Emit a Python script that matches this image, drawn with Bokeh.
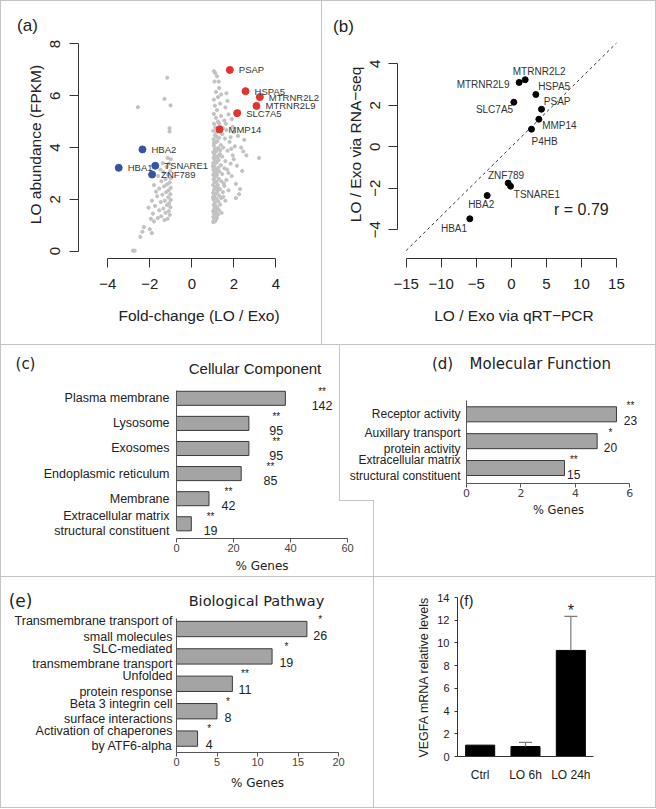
from bokeh.plotting import figure
from bokeh.models import (ColumnDataSource, Range1d, FactorRange, FixedTicker,
                          Label, LabelSet, GridBox, Spacer)
from bokeh.core.properties import value, field
from bokeh.embed import file_html
from bokeh.resources import INLINE

# ------------------------------------------------------------------ data
# (a) volcano-like plot: fold-change vs abundance
grey_fc = [
    1.02, 1.05, 1.10, 1.08, 1.15, 1.03, 1.20, 1.12, 1.05, 1.25,
    1.02, 1.16, 1.30, 1.08, 1.22, 1.04, 1.14, 1.35, 1.10, 1.26,
    1.03, 1.18, 1.40, 1.07, 1.30, 1.02, 1.15, 1.22, 1.48, 1.06,
    1.34, 1.12, 1.02, 1.24, 1.55, 1.08, 1.18, 1.40, 1.04, 1.28,
    1.65, 1.12, 1.02, 1.20, 1.45, 1.08, 1.32, 1.75, 1.03, 1.15,
    1.26, 1.55, 1.07, 1.38, 1.02, 1.18, 1.85, 1.10, 1.28, 1.60,
    1.04, 1.20, 1.45, 1.08, 1.34, 1.95, 1.02, 1.16, 1.70, 1.10,
    1.25, 1.50, 1.05, 1.38, 2.05, 1.14, 1.22, 1.80, 1.04, 1.30,
    1.58, 1.10, 1.45, 2.20, 1.18, 1.02, 1.65, 1.12, 1.35, 1.95,
    1.06, 1.25, 1.55, 1.15, 1.40, 1.05, 1.75, 1.20, 1.60, 1.10,
    1.35, 1.05, 1.25, 1.15, 1.30, 1.08, 1.20, 1.05, 1.12, 2.30,
    2.25, 2.10, 1.90, 2.40, 2.60, 3.20, 2.15, 2.35, 2.50, 2.00,
    1.90, 2.25, 1.70, 2.10, 1.75, 2.00, 2.45, 1.85, 1.65, 1.50,
    1.13, 1.01, 1.21, 1.09, 1.19, 1.01, 1.27, 1.06, 1.17, 1.29,
    1.42, 1.60, 1.52, 1.68, 1.35, 1.88, 1.48, 1.62, 1.40, 1.28,
    -2.57, -1.17, -1.30, -1.01, -1.06, -1.06, -1.00, -1.08, -1.20, -1.02,
    -1.35, -1.12, -1.00, -1.25, -1.45, -1.05, -1.18, -1.32, -1.00, -1.55,
    -1.10, -1.22, -1.02, -1.40, -1.65, -1.12, -1.00, -1.28, -1.48, -1.08,
    -1.18, -1.75, -1.02, -1.35, -1.55, -1.10, -1.25, -1.85, -1.05, -1.45,
    -1.62, -1.15, -1.30, -2.06, -1.95, -1.80, -2.28, -2.00, -1.90, -2.45,
    -2.35, -2.80, -2.72, -1.50, -1.60, -1.80, -1.38, -1.15, -1.70, -1.90,
]
grey_fpkm = [
    1.12, 1.18, 1.15, 1.25, 1.22, 1.32, 1.30, 1.40, 1.45, 1.42,
    1.55, 1.52, 1.58, 1.65, 1.68, 1.78, 1.75, 1.80, 1.88, 1.92,
    2.00, 2.02, 2.05, 2.12, 2.15, 2.25, 2.22, 2.30, 2.28, 2.38,
    2.40, 2.48, 2.55, 2.55, 2.52, 2.65, 2.68, 2.70, 2.78, 2.80,
    2.75, 2.88, 2.95, 2.95, 2.98, 3.05, 3.08, 3.02, 3.15, 3.18,
    3.22, 3.20, 3.30, 3.32, 3.40, 3.42, 3.38, 3.50, 3.52, 3.48,
    3.60, 3.62, 3.65, 3.72, 3.75, 3.70, 3.82, 3.85, 3.88, 3.95,
    3.98, 4.00, 4.08, 4.10, 4.05, 4.20, 4.25, 4.22, 4.32, 4.38,
    4.35, 4.48, 4.52, 4.45, 4.60, 4.65, 4.68, 4.78, 4.82, 4.80,
    4.92, 5.00, 5.05, 5.15, 5.22, 5.30, 5.28, 5.45, 5.55, 5.62,
    5.70, 5.85, 5.95, 6.15, 6.30, 6.55, 6.75, 6.95, 6.88, 2.40,
    2.20, 2.60, 2.90, 3.10, 3.70, 3.60, 3.30, 4.00, 4.30, 4.60,
    5.10, 5.40, 5.80, 2.05, 2.35, 3.55, 3.85, 4.40, 6.10, 2.10,
    1.62, 2.08, 2.42, 2.72, 3.08, 3.28, 3.68, 4.18, 4.42, 4.95,
    1.48, 1.95, 2.62, 3.15, 3.90, 3.95, 4.75, 4.92, 6.05, 6.55,
    5.56, 6.70, 5.88, 5.63, 4.75, 4.62, 3.55, 3.38, 3.25, 3.10,
    3.05, 2.95, 2.82, 2.78, 2.70, 2.65, 2.58, 2.50, 2.45, 2.42,
    2.35, 2.28, 2.20, 2.18, 2.12, 2.08, 1.98, 1.95, 1.90, 1.85,
    1.78, 1.75, 1.70, 1.65, 1.58, 1.55, 1.48, 1.45, 1.40, 1.35,
    1.28, 1.25, 1.20, 1.68, 1.25, 1.15, 0.93, 0.85, 0.70, 0.55,
    0.75, 0.02, 0.02, 3.15, 2.90, 2.55, 3.40, 3.60, 2.30, 1.95,
]
up_genes = ["PSAP", "HSPA5", "MTRNR2L2", "MTRNR2L9", "SLC7A5", "MMP14"]
up_fc = [1.81, 2.56, 3.24, 3.08, 2.16, 1.32]
up_fpkm = [7.00, 6.18, 5.95, 5.61, 5.33, 4.70]
down_genes = ["HBA2", "HBA1", "TSNARE1", "ZNF789"]
down_fc = [-2.35, -3.48, -1.74, -1.89]
down_fpkm = [3.93, 3.22, 3.30, 2.96]

# (b) validation RNA-seq vs qRT-PCR
val_genes = ["MTRNR2L2", "MTRNR2L9", "HSPA5", "SLC7A5", "PSAP", "MMP14",
             "P4HB", "ZNF789", "TSNARE1", "HBA2", "HBA1"]
val_qpcr = [1.98, 1.12, 3.50, 0.36, 4.31, 3.93, 2.88, -0.44, -0.11, -3.44, -5.92]
val_rnaseq = [3.23, 3.10, 2.52, 2.15, 1.81, 1.33, 0.85, -1.75, -1.90, -2.35, -3.47]
fit_x = [-15, 15]
fit_y = [-5, 5]
r_value = 0.79

# (c) Cellular Component
cc_terms = ["Plasma membrane", "Lysosome", "Exosomes", "Endoplasmic reticulum",
            "Membrane", "Extracellular matrix\nstructural constituent"]
cc_pct = [38.2, 25.4, 25.4, 22.7, 11.4, 5.2]
cc_count = [142, 95, 95, 85, 42, 19]
cc_sig = ["**", "**", "**", "**", "**", "**"]

# (d) Molecular Function
mf_terms = ["Receptor activity", "Auxillary transport\nprotein activity",
            "Extracellular matrix\nstructural constituent"]
mf_pct = [5.51, 4.80, 3.60]
mf_count = [23, 20, 15]
mf_sig = ["**", "*", "**"]

# (e) Biological Pathway
bp_terms = ["Transmembrane transport of\nsmall molecules",
            "SLC-mediated\ntransmembrane transport",
            "Unfolded\nprotein response",
            "Beta 3 integrin cell\nsurface interactions",
            "Activation of chaperones\nby ATF6-alpha"]
bp_pct = [16.1, 11.8, 6.9, 5.0, 2.6]
bp_count = [26, 19, 11, 8, 4]
bp_sig = ["*", "*", "**", "*", "*"]

# (f) VEGFA
vegf_groups = ["Ctrl", "LO 6h", "LO 24h"]
vegf_level = [1.0, 0.88, 9.34]
vegf_err = [0.0, 0.36, 3.0]
vegf_sig = ["", "", "*"]

# ------------------------------------------------------------------ style
SANS = "Liberation Sans"
VERD = "DejaVu Sans"
TXT = "#222222"
AXC = "#333333"
BORDER = "#c4c4c4"
BAR_FILL = "#a4a4a4"
BAR_LINE = "#3a3a3a"
W, H = 656, 808


def make_fig(canvas, fr, xr, yr):
    cl, ct, cr, cb = canvas
    p = figure(width=cr - cl, height=cb - ct, x_range=xr, y_range=yr,
               output_backend="svg", toolbar_location=None, frame_align=False,
               min_border_left=fr["l"] - cl, min_border_right=cr - fr["r"],
               min_border_top=fr["t"] - ct, min_border_bottom=cb - fr["b"])
    p.background_fill_color = None
    p.border_fill_color = None
    p.outline_line_color = None
    p.xgrid.visible = False
    p.ygrid.visible = False
    return p


def style_axis(ax, tick_size, label_size, font=SANS, lab_font=None, color=TXT,
               line=AXC):
    ax.major_label_text_font = font
    ax.major_label_text_font_size = f"{tick_size}px"
    ax.major_label_text_color = color
    ax.axis_label_text_font = lab_font or font
    ax.axis_label_text_font_size = f"{label_size}px"
    ax.axis_label_text_font_style = "normal"
    ax.axis_label_text_color = color
    ax.minor_tick_line_color = None
    ax.major_tick_in = 0
    ax.axis_line_color = line
    ax.major_tick_line_color = line


def minus(ticks):
    return {t: ("\u2212" + str(abs(t))) for t in ticks if t < 0}


# ------------------------------------------------------------------ (a)
FA = dict(l=78, t=30, r=319, b=258, x0=-5.395, x1=6.081, y0=-0.282, y1=8.521)
pa = make_fig((0, 0, 321, 344), FA, Range1d(FA["x0"], FA["x1"]), Range1d(FA["y0"], FA["y1"]))
pa.scatter(grey_fc, grey_fpkm, size=3.2, color="#c2c2c2")
pa.scatter(up_fc, up_fpkm, size=7, color="#e2342a")
pa.scatter(down_fc, down_fpkm, size=7, color="#3953a4")
for gx, gy, gn in ((up_fc, up_fpkm, up_genes), (down_fc, down_fpkm, down_genes)):
    src = ColumnDataSource(dict(x=gx, y=gy, t=gn))
    pa.add_layout(LabelSet(x="x", y="y", text="t", source=src, x_offset=9,
                           text_font=value(SANS), text_font_size="9.5px",
                           text_baseline="middle", text_align="left",
                           text_color="#333333"))
xt = [-4, -2, 0, 2, 4]
yt = [0, 2, 4, 6, 8]
pa.xaxis.ticker = FixedTicker(ticks=xt)
pa.xaxis.bounds = (xt[0], xt[-1])
pa.xaxis.major_label_overrides = minus(xt)
pa.yaxis.ticker = FixedTicker(ticks=yt)
pa.yaxis.bounds = (yt[0], yt[-1])
pa.yaxis.major_label_orientation = "vertical"
for ax in (pa.xaxis[0], pa.yaxis[0]):
    style_axis(ax, 15, 15.5)
    ax.major_tick_out = 9
pa.xaxis.major_label_standoff = 11
pa.yaxis.major_label_standoff = 9
pa.xaxis.axis_label = "Fold-change (LO / Exo)"
pa.yaxis.axis_label = "LO abundance (FPKM)"
pa.xaxis.axis_label_standoff = 15
pa.yaxis.axis_label_standoff = 4

# ------------------------------------------------------------------ (b)
FB = dict(l=397, t=30, r=630, b=258, x0=-16.234, x1=17.004, y0=-5.383, y1=5.605)
pb = make_fig((321, 0, 655, 344), FB, Range1d(FB["x0"], FB["x1"]), Range1d(FB["y0"], FB["y1"]))
pb.line(fit_x, fit_y, line_dash="3 3", line_color="#333333", line_width=1)
pb.scatter(val_qpcr, val_rnaseq, size=6, color="black")
# label placement (screen px) for each gene
b_dx = [14, -9.7, 2.3, -0.7, 2.3, 3.3, 0, -2.2, 3.3, -6, -2.7]
b_dy = [8.6, -2.3, 8, -7.7, 8, -6.3, -12.7, 7.7, -8.7, -9.3, -10]
b_al = ["center", "right", "left", "right", "left", "left", "left", "center",
        "left", "center", "right"]
srcb = ColumnDataSource(dict(x=val_qpcr, y=val_rnaseq, t=val_genes, dx=b_dx, dy=b_dy, al=b_al))
pb.add_layout(LabelSet(x="x", y="y", text="t", source=srcb, x_offset=field("dx"),
                       y_offset=field("dy"), text_align=field("al"),
                       text_font=value(SANS), text_font_size="10px",
                       text_baseline="middle", text_color="#333333"))
xtb = [-15, -10, -5, 0, 5, 10, 15]
ytb = [-4, -2, 0, 2, 4]
pb.xaxis.ticker = FixedTicker(ticks=xtb)
pb.xaxis.bounds = (xtb[0], xtb[-1])
pb.xaxis.major_label_overrides = minus(xtb)
pb.yaxis.ticker = FixedTicker(ticks=ytb)
pb.yaxis.bounds = (ytb[0], ytb[-1])
pb.yaxis.major_label_overrides = minus(ytb)
pb.yaxis.major_label_orientation = "vertical"
for ax in (pb.xaxis[0], pb.yaxis[0]):
    style_axis(ax, 15, 15.5)
    ax.major_tick_out = 9
pb.xaxis.major_label_standoff = 11
pb.yaxis.major_label_standoff = 8
pb.xaxis.axis_label = "LO / Exo via qRT\u2212PCR"
pb.yaxis.axis_label = "LO / Exo via RNA\u2212seq"
pb.xaxis.axis_label_standoff = 15
pb.yaxis.axis_label_standoff = 4
pb.add_layout(Label(x=10, y=-3, text=f"r = {r_value}", text_font=SANS,
                    text_font_size="16px", text_align="center",
                    text_baseline="middle", text_color=TXT))


# ------------------------------------------------------------------ bar panels
def bar_panel(canvas, fr, xbounds, ybounds, xticks, terms, pct, count, sig, num_dx,
              star_dy, num_dy, lab_size, lab_lh, lab_standoff, num_size, tick_font,
              tick_size, gl_font, gl_size, gl_standoff):
    p = make_fig(canvas, fr, Range1d(fr["x0"], fr["x1"]), Range1d(fr["y0"], fr["y1"]))
    pos = list(range(len(terms) - 1, -1, -1))
    p.hbar(y=pos, left=0, right=pct, height=0.56, fill_color=BAR_FILL,
           line_color=BAR_LINE, line_width=1)
    src = ColumnDataSource(dict(x=pct, y=pos, n=[str(c) for c in count], s=sig, dx=num_dx))
    p.add_layout(LabelSet(x="x", y="y", text="n", source=src, x_offset=field("dx"),
                          y_offset=num_dy, text_font=value(SANS),
                          text_font_size=f"{num_size}px", text_align="center",
                          text_baseline="middle", text_color=TXT))
    p.add_layout(LabelSet(x="x", y="y", text="s", source=src, x_offset=field("dx"),
                          y_offset=star_dy, text_font=value(SANS),
                          text_font_size="10px", text_align="center",
                          text_baseline="middle", text_color=TXT))
    ya = p.yaxis[0]
    ya.ticker = FixedTicker(ticks=pos)
    ya.major_label_overrides = {k: t for k, t in zip(pos, terms)}
    style_axis(ya, lab_size, 12, line="#555555")
    ya.major_tick_out = 0
    ya.major_label_standoff = lab_standoff
    ya.major_label_text_line_height = lab_lh
    ya.bounds = ybounds
    xa = p.xaxis[0]
    xa.ticker = FixedTicker(ticks=xticks)
    xa.bounds = xbounds
    style_axis(xa, tick_size, gl_size, font=tick_font, lab_font=gl_font,
               color="#444444", line="#555555")
    xa.major_tick_out = 4
    xa.major_label_standoff = 1
    xa.axis_label = "% Genes"
    xa.axis_label_text_color = TXT
    xa.axis_label_standoff = gl_standoff
    return p


FC = dict(l=176, t=372, r=347, b=538, x0=0, x1=60, y0=-0.586, y1=6.028)
pc = bar_panel((0, 344, 373, 576), FC, (0, 60), (-0.267, 5.311), [0, 20, 40, 60],
               cc_terms, cc_pct, cc_count, cc_sig,
               num_dx=[36.7, 27.4, 27.4, 29.3, 19.4, 19.3],
               star_dy=7, num_dy=-7, lab_size=12.5, lab_lh=1.08, lab_standoff=7,
               num_size=12.5, tick_font=SANS, tick_size=11, gl_font=VERD,
               gl_size=12, gl_standoff=4)

FD = dict(l=466, t=385, r=650, b=483, x0=0, x1=6.76, y0=-0.577, y1=3.073)
pd = bar_panel((339, 344, 655, 576), FD, (0, 6), (-0.577, 2.514), [0, 2, 4, 6],
               mf_terms, mf_pct, mf_count, mf_sig, num_dx=[14, 13.3, 9.3],
               star_dy=9, num_dy=-6, lab_size=12, lab_lh=1.1, lab_standoff=6,
               num_size=12, tick_font=VERD, tick_size=11, gl_font=VERD,
               gl_size=11.5, gl_standoff=3)

FE = dict(l=176, t=603, r=338, b=752, x0=0, x1=20, y0=-0.507, y1=4.931)
pe = bar_panel((0, 576, 373, 807), FE, (0, 20), (-0.507, 4.383), [0, 5, 10, 15, 20],
               bp_terms, bp_pct, bp_count, bp_sig,
               num_dx=[13.3, 14.3, 12.6, 11, 11.6], star_dy=10, num_dy=-6,
               lab_size=12.5, lab_lh=1.1, lab_standoff=4, num_size=12.5,
               tick_font=SANS, tick_size=11, gl_font=VERD, gl_size=12,
               gl_standoff=7)

# ------------------------------------------------------------------ (f)
FF = dict(l=457, t=597, r=593, b=756, x0=0, x1=3, y0=0, y1=14)
pf = make_fig((373, 576, 655, 807), FF, FactorRange(factors=vegf_groups), Range1d(0, 14))
pf.vbar(x=vegf_groups, top=vegf_level, width=0.64, fill_color="black", line_color="black")
eg = [g for g, e in zip(vegf_groups, vegf_err) if e > 0]
el = [l for l, e in zip(vegf_level, vegf_err) if e > 0]
eu = [l + e for l, e in zip(vegf_level, vegf_err) if e > 0]
pf.segment(x0=eg, y0=el, x1=eg, y1=eu, line_color="#7a7a7a", line_width=1.2)
pf.scatter(x=eg, y=eu, marker="dash", size=13, line_color="#7a7a7a", line_width=1.2)
srcf = ColumnDataSource(dict(x=vegf_groups, y=[l + e for l, e in zip(vegf_level, vegf_err)], s=vegf_sig))
pf.add_layout(LabelSet(x="x", y="y", text="s", source=srcf, y_offset=6,
                       text_font=value(SANS), text_font_size="16px",
                       text_align="center", text_baseline="middle",
                       text_color=TXT))
pf.yaxis.ticker = FixedTicker(ticks=list(range(0, 15, 2)))
style_axis(pf.yaxis[0], 11, 12.5)
pf.yaxis.major_tick_out = 3
pf.yaxis.major_label_standoff = 5
pf.yaxis.axis_label = "VEGFA mRNA relative levels"
pf.yaxis.axis_label_standoff = 3
style_axis(pf.xaxis[0], 12, 12)
pf.xaxis.major_tick_out = 0
pf.xaxis.major_tick_line_color = None
pf.xaxis.major_label_standoff = 11

# ------------------------------------------------------------------ page overlay for panel titles
po = figure(width=W, height=H, x_range=Range1d(0, W), y_range=Range1d(H, 0),
            x_axis_type=None, y_axis_type=None, min_border=0,
            output_backend="svg", toolbar_location=None, frame_align=False)
po.background_fill_color = None
po.border_fill_color = None
po.outline_line_color = None
po.xgrid.visible = False
po.ygrid.visible = False

panel_text = [
    ("(a)", 27, 25, 17, SANS), ("(b)", 343, 26, 17, SANS),
    ("(c)", 25, 363, 15, VERD), ("Cellular Component", 254.5, 368, 15, SANS),
    ("(d)", 442, 363, 15, VERD), ("Molecular Function", 539.7, 363, 15, VERD),
    ("(e)", 20, 600, 17, VERD), ("Biological Pathway", 256, 600, 14.5, VERD),
    ("(f)", 465.8, 600, 15, SANS),
]
for t, X, Y, s, f in panel_text:
    po.add_layout(Label(x=X, y=Y, text=t, text_font=f, text_font_size=f"{s}px",
                        text_align="center", text_baseline="middle",
                        text_color=TXT))


# ------------------------------------------------------------------ layout
def line_el(w, h):
    return Spacer(width=w, height=h, styles={"background-color": BORDER})


children = [
    (pa, 0, 0), (pb, 0, 1, 1, 3),
    (pc, 1, 0, 2, 3), (pd, 1, 2, 2, 2),
    (pe, 3, 0, 1, 3), (pf, 3, 3),
    (po, 0, 0, 5, 5),
    (line_el(W, 1), 0, 0, 1, 5),
    (line_el(1, H), 0, 0, 5, 1),
    (line_el(1, 344), 0, 1),
    (line_el(W, 1), 1, 0, 1, 5),
    (line_el(1, 156), 1, 2),
    (line_el(35, 1), 2, 2),
    (line_el(1, 307), 2, 3, 2, 1),
    (line_el(W, 1), 3, 0, 1, 5),
    (line_el(W, 1), 4, 0, 1, 5),
    (line_el(1, H), 0, 4, 5, 1),
]
grid = GridBox(children=children,
               rows=["344px", "156px", "76px", "231px", "1px"],
               cols=["321px", "18px", "34px", "282px", "1px"],
               spacing=0)

open("out.html", "w").write(file_html(grid, INLINE, title="figure"))
